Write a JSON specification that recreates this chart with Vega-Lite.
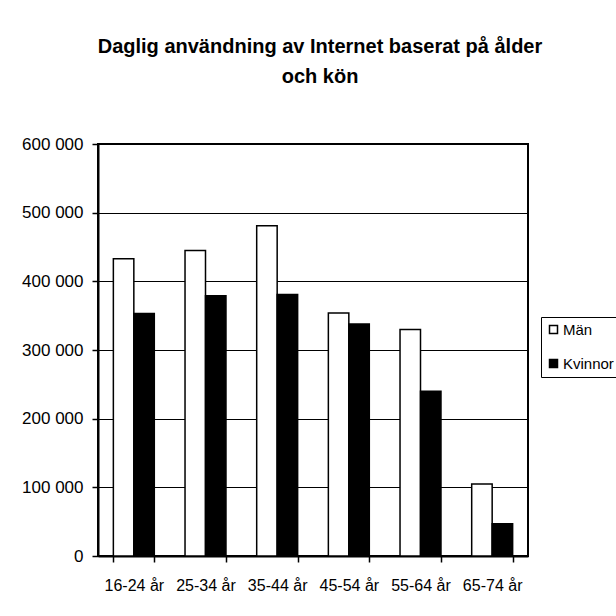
{
  "$schema": "https://vega.github.io/schema/vega-lite/v6.json",
  "autosize": {"type": "none"},
  "padding": {"left": 98, "top": 144, "right": 88, "bottom": 60},
  "width": 430,
  "height": 412,
  "background": "white",
  "title": {
    "text": ["Daglig användning av Internet baserat på ålder", "och kön"],
    "font": "Liberation Sans Narrow, Liberation Sans, Arial",
    "fontSize": 20,
    "fontWeight": "bold",
    "color": "black",
    "lineHeight": 30,
    "anchor": "middle",
    "dx": 7,
    "offset": 48
  },
  "data": {
    "values": [
      {"alder": "16-24 år", "kon": "Män", "antal": 433000},
      {"alder": "16-24 år", "kon": "Kvinnor", "antal": 353000},
      {"alder": "25-34 år", "kon": "Män", "antal": 445000},
      {"alder": "25-34 år", "kon": "Kvinnor", "antal": 379000},
      {"alder": "35-44 år", "kon": "Män", "antal": 481000},
      {"alder": "35-44 år", "kon": "Kvinnor", "antal": 381000},
      {"alder": "45-54 år", "kon": "Män", "antal": 354000},
      {"alder": "45-54 år", "kon": "Kvinnor", "antal": 338000},
      {"alder": "55-64 år", "kon": "Män", "antal": 330000},
      {"alder": "55-64 år", "kon": "Kvinnor", "antal": 240000},
      {"alder": "65-74 år", "kon": "Män", "antal": 105000},
      {"alder": "65-74 år", "kon": "Kvinnor", "antal": 47000}
    ]
  },
  "mark": {"type": "bar", "stroke": "black", "strokeWidth": 1.5},
  "encoding": {
    "x": {
      "field": "alder",
      "type": "nominal",
      "scale": {"paddingInner": 0.4286, "paddingOuter": 0.2143},
      "axis": {
        "title": null,
        "labelAngle": 0,
        "tickBand": "extent",
        "ticks": true,
        "tickSize": 6,
        "tickColor": "black",
        "tickWidth": 1.5,
        "domainColor": "black",
        "domainWidth": 2,
        "labelFont": "Liberation Sans Narrow, Liberation Sans, Arial",
        "labelFontSize": 16,
        "labelColor": "black",
        "labelPadding": 15,
        "grid": false
      }
    },
    "xOffset": {"field": "kon", "type": "nominal", "sort": ["Män", "Kvinnor"]},
    "y": {
      "field": "antal",
      "type": "quantitative",
      "scale": {"domain": [0, 600000]},
      "axis": {
        "title": null,
        "values": [0, 100000, 200000, 300000, 400000, 500000, 600000],
        "labelExpr": "replace(format(datum.value, ','), regexp(',', 'g'), ' ')",
        "tickSize": 6,
        "tickColor": "black",
        "tickWidth": 1.5,
        "domainColor": "black",
        "domainWidth": 2,
        "grid": true,
        "gridColor": "black",
        "gridWidth": 1,
        "gridOpacity": 1,
        "labelFont": "Liberation Sans Narrow, Liberation Sans, Arial",
        "labelFontSize": 17,
        "labelColor": "black",
        "labelPadding": 9
      }
    },
    "fill": {
      "field": "kon",
      "type": "nominal",
      "scale": {"domain": ["Män", "Kvinnor"], "range": ["white", "black"]},
      "legend": {
        "title": null,
        "orient": "none",
        "legendX": 443,
        "legendY": 173,
        "symbolType": "square",
        "symbolSize": 64,
        "symbolStrokeColor": "black",
        "symbolStrokeWidth": 1.5,
        "labelFont": "Liberation Sans Narrow, Liberation Sans, Arial",
        "labelFontSize": 15,
        "labelColor": "black",
        "labelOffset": 2,
        "rowPadding": 18,
        "padding": 5,
        "strokeColor": "black"
      }
    }
  },
  "config": {
    "view": {"stroke": "black", "strokeWidth": 2}
  }
}
